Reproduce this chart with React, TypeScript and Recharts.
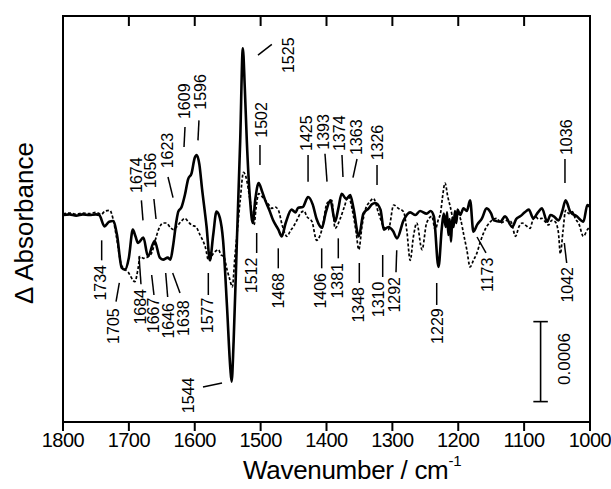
import { LineChart, Line, XAxis, YAxis, ReferenceLine, ReferenceDot, ReferenceArea, CartesianGrid } from 'recharts';

const FONT = '"Liberation Sans", Arial, Helvetica, sans-serif';

// wavenumber ticks (cm-1), axis runs high -> low
const WN_TICKS = [1800, 1700, 1600, 1500, 1400, 1300, 1200, 1100, 1000];

// y values are ΔA in units of 1e-4
const Y_MIN = -15.53;
const Y_MAX = 14.93;

// solid trace: [wavenumber, ΔA x1e4]
const SOLID: [number, number][] = [
  [1800, 0], [1790, 0.05], [1780, -0.05], [1770, 0.05], [1760, 0], [1750, 0.05], [1745, 0],
  [1737, -0.85], [1730, -0.5], [1724, -0.45], [1718, -1.5], [1711, -3.95], [1706, -4.1],
  [1700, -3.2], [1694, -1.1], [1690, -1.6], [1686, -2.1], [1678, -1.7], [1671, -3.1],
  [1661, -1.95], [1653, -3.2], [1648, -3.35], [1641, -3.2], [1637, -3.35], [1633, -2.35],
  [1628, -0.5], [1625, 0.25], [1620, 0.6], [1615, 1.5], [1610, 2.7], [1605, 3.1], [1600, 4.3],
  [1597, 4.5], [1593, 3.8], [1589, 2.0], [1582, -0.9], [1577, -3.4], [1572, -1.5], [1567, 0.25],
  [1562, -0.2], [1557, -1.9], [1551, -6.9], [1546, -11.5], [1544, -12.5], [1541, -9.5],
  [1536, -1.9], [1531, 5.6], [1527, 12.5], [1524, 9.5], [1521, 5.6], [1516, 1.1], [1512, -0.6],
  [1508, 1.2], [1503, 2.4], [1498, 1.8], [1493, 1.1], [1487, 0.4], [1481, -0.4], [1473, -1.1],
  [1468, -1.6], [1462, -0.6], [1453, 0.4], [1447, 0.2], [1443, 0.55], [1436, 0.6], [1428, 1.35],
  [1421, 0.8], [1415, -0.3], [1407, -0.95], [1401, 0.2], [1394, 1.1], [1387, -0.5], [1382, 0.5],
  [1377, 1.6], [1370, 1.2], [1364, 1.5], [1359, 0.5], [1351, -1.6], [1344, 0.1], [1336, 0.5],
  [1331, 0.8], [1326, 0.9], [1318, 0.4], [1313, -1.1], [1306, -0.9], [1299, -1.2], [1293, -1.75],
  [1283, -0.4], [1273, 0.2], [1265, 0.0], [1258, 0.3], [1248, 0.1], [1242, 0.3], [1237, -0.1],
  [1230, -3.9], [1225, -1.0], [1222, 0.1], [1219, -0.9], [1217, 0.2], [1215, -1.5], [1213, -0.3],
  [1211, -2.0], [1209, -0.2], [1207, -0.9], [1205, 0.3], [1203, -0.6], [1201, 0.4], [1197, 0.0],
  [1192, 0.5], [1187, 0.3], [1182, 1.1], [1177, -1.25], [1171, -0.7], [1164, -0.25], [1157, 0.5],
  [1150, 0.1], [1146, -0.4], [1136, -0.5], [1129, -0.1], [1118, -0.9], [1112, -0.3], [1106, -0.1],
  [1099, 0.2], [1093, 0.4], [1086, -0.25], [1079, 0.2], [1073, 0.5], [1065, -0.5], [1060, 0.0],
  [1055, -0.1], [1048, -0.4], [1042, 0.3], [1037, 1.1], [1030, 0.25], [1020, -0.1], [1010, -0.5],
  [1004, 0.75], [1000, 0.6],
];

// dashed trace
const DASHED: [number, number][] = [
  [1800, 0.1], [1790, 0.15], [1780, 0.05], [1770, 0.15], [1760, 0.1], [1750, 0.2], [1742, 0.05],
  [1736, 0.3], [1729, 0.35], [1724, -0.3], [1719, -1.6], [1711, -3.8], [1701, -4.3], [1691, -5.0],
  [1686, -4.0], [1683, -3.1], [1678, -3.25], [1670, -3.1], [1665, -2.8], [1660, -1.9], [1655, -1.1],
  [1648, -0.6], [1643, -0.6], [1637, -0.95], [1632, -1.1], [1627, -0.85], [1621, -0.5], [1615, -0.25],
  [1610, -0.5], [1605, -0.75], [1598, -0.9], [1592, -1.5], [1584, -2.4], [1579, -3.4], [1572, -2.9],
  [1568, -2.7], [1564, -2.6], [1560, -3.0], [1556, -3.1], [1551, -4.1], [1547, -4.8], [1543, -5.4],
  [1539, -3.1], [1535, -1.0], [1531, 1.1], [1526, 3.2], [1522, 2.8], [1516, 1.1], [1510, -0.75],
  [1507, 0.5], [1503, 1.6], [1498, 1.4], [1493, 1.1], [1488, 0.8], [1483, 0.5], [1478, 0.6],
  [1473, 0.35], [1467, -0.8], [1460, -1.6], [1455, -1.2], [1450, -0.85], [1445, -0.4], [1440, 0.1],
  [1434, 0.3], [1430, -0.1], [1422, -0.5], [1415, -1.9], [1407, -1.1], [1399, 0.9], [1392, 1.1],
  [1387, -1.0], [1379, -0.25], [1373, 0.6], [1367, 1.4], [1359, -0.1], [1355, -1.3], [1351, -2.6],
  [1346, -0.8], [1341, 0.4], [1334, 1.0], [1329, 1.25], [1321, 0.15], [1313, -0.9], [1306, -1.1],
  [1298, 0.75], [1291, 0.5], [1283, 0.25], [1278, -1.2], [1273, -3.4], [1268, -1.6], [1263, -0.6],
  [1255, -2.6], [1248, -0.6], [1240, -0.1], [1235, -1.1], [1230, -0.3], [1227, 0.1], [1224, 1.3],
  [1220, 2.4], [1216, 1.4], [1212, 0.6], [1207, -0.35], [1200, 0.1], [1196, -0.4], [1192, -1.4],
  [1187, -2.6], [1182, -3.9], [1177, -3.4], [1172, -2.9], [1167, -2.1], [1162, -1.4], [1156, -0.8],
  [1151, -0.5], [1146, -0.3], [1141, -0.25], [1136, -0.6], [1131, -0.5], [1125, -0.4], [1120, -0.5],
  [1113, -1.6], [1108, -0.9], [1103, -0.6], [1097, -0.8], [1091, -1.0], [1087, -0.4], [1083, -0.1],
  [1078, -0.3], [1073, -0.25], [1068, -0.5], [1063, -0.75], [1058, -0.4], [1053, -0.5], [1048, -1.3],
  [1045, -2.9], [1041, -1.2], [1037, 0.35], [1032, 0.1], [1027, 0.25], [1022, -0.3], [1017, -0.65],
  [1010, -1.6], [1004, -1.1], [1000, -0.9],
];

// peak labels above the traces: label, text anchor point (bottom of text), leader line
type Mark = { text: string; at: [number, number]; line: [number, number, number, number] };

const UPPER: Mark[] = [
  { text: '1674', at: [1689, 1.65], line: [1681, 1.1, 1678.6, -0.4] },
  { text: '1656', at: [1666.4, 2.0], line: [1662, 1.2, 1658.8, -0.3] },
  { text: '1623', at: [1642, 3.5], line: [1640.6, 2.85, 1633, 1.3] },
  { text: '1609', at: [1616.3, 7.2], line: [1614.8, 6.6, 1616.3, 5.1] },
  { text: '1596', at: [1590.5, 7.9], line: [1593.6, 7.1, 1595.1, 5.6] },
  { text: '1525', at: [1458.4, 10.65], line: [1504, 12.0, 1483, 12.8] },
  { text: '1502', at: [1498, 5.8], line: [1501, 5.25, 1501, 3.75] },
  { text: '1425', at: [1431, 4.8], line: [1428, 4.5, 1428, 2.5] },
  { text: '1393', at: [1404, 4.9], line: [1402.3, 4.6, 1399.2, 2.5] },
  { text: '1374', at: [1379.5, 4.8], line: [1376.5, 4.5, 1375, 2.85] },
  { text: '1363', at: [1355, 4.5], line: [1353.7, 4.2, 1359.8, 2.8] },
  { text: '1326', at: [1323.3, 4.1], line: [1323.3, 3.75, 1323.3, 2.25] },
  { text: '1036', at: [1036.4, 4.5], line: [1038, 4.2, 1038, 2.4] },
];

// peak labels below the traces: anchor point is the top of the text
const LOWER: Mark[] = [
  { text: '1734', at: [1743.8, -3.75], line: [1741.3, -1.9, 1741.3, -3.4] },
  { text: '1705', at: [1722.6, -7.0], line: [1714.5, -5.1, 1719.5, -6.5] },
  { text: '1684', at: [1681.6, -5.55], line: [1684.6, -3.1, 1681.6, -5.2] },
  { text: '1667', at: [1661.9, -6.2], line: [1665.4, -4.5, 1661.9, -6.0] },
  { text: '1646', at: [1639.1, -6.6], line: [1644.1, -4.35, 1641.1, -6.15] },
  { text: '1638', at: [1617.8, -6.4], line: [1633.5, -4.35, 1622.4, -5.85] },
  { text: '1577', at: [1581.4, -6.2], line: [1579.4, -4.35, 1579.4, -6.0] },
  { text: '1544', at: [1610.2, -12.2], line: [1587.5, -12.9, 1558.6, -12.6] },
  { text: '1512', at: [1513.1, -3.2], line: [1506, -1.35, 1506, -2.85] },
  { text: '1468', at: [1472.1, -4.35], line: [1473.2, -2.5, 1473.2, -4.0] },
  { text: '1406', at: [1408.4, -4.35], line: [1407.3, -2.5, 1407.3, -4.0] },
  { text: '1381', at: [1383.3, -3.6], line: [1382.1, -1.75, 1382.1, -3.25] },
  { text: '1348', at: [1350.7, -5.4], line: [1350.2, -3.6, 1350.2, -5.1] },
  { text: '1310', at: [1320.3, -5.0], line: [1314.7, -3.0, 1314.7, -4.65] },
  { text: '1292', at: [1296, -4.65], line: [1293.4, -2.65, 1294.5, -4.3] },
  { text: '1229', at: [1231.5, -7.0], line: [1232.7, -5.1, 1232.7, -6.75] },
  { text: '1173', at: [1155.6, -3.2], line: [1171.5, -1.65, 1157.9, -2.85] },
  { text: '1042', at: [1033.4, -3.9], line: [1039, -2.1, 1035.4, -3.6] },
];

// scale bar: 6 units = 0.0006
const BAR_WN = 1075;
const BAR_BOTTOM = -14.0;
const BAR_LEN = 6;

const solidData = SOLID.map(([wn, v]) => ({ wn, v }));
const dashedData = DASHED.map(([wn, v]) => ({ wn, v }));

const vText = (text: string, anchor: 'start' | 'end' | 'middle', size = 16) => (p: any) => (
  <text
    x={p.cx}
    y={p.cy}
    transform={`rotate(-90 ${p.cx} ${p.cy})`}
    textAnchor={anchor}
    dominantBaseline="central"
    fontSize={size}
    fontFamily={FONT}
    fill="#000"
  >
    {text}
  </text>
);

export default function App() {
  return (
    <div style={{ position: 'absolute', left: 0, top: 0, width: 611, height: 489, background: '#fff', fontFamily: FONT }}>
      <LineChart width={611} height={489} margin={{ top: 16, right: 21, bottom: 0, left: 63 }}>
        {/* vertical grid dashed so only a short inward tick shows under the top frame */}
        <CartesianGrid horizontal={false} stroke="#000" strokeWidth={2} strokeDasharray="10 2000" />
        <XAxis
          type="number"
          dataKey="wn"
          domain={[1000, 1800]}
          reversed
          ticks={WN_TICKS}
          allowDataOverflow
          height={67}
          axisLine={false}
          tickSize={9}
          tickMargin={2}
          tickLine={{ stroke: '#000', strokeWidth: 2 }}
          tick={{ fontSize: 20, fill: '#000', fontFamily: FONT, letterSpacing: -0.5 }}
        />
        <YAxis type="number" domain={[Y_MIN, Y_MAX]} allowDataOverflow hide />
        <ReferenceArea x1={1800} x2={1000} y1={Y_MIN} y2={Y_MAX} fill="none" stroke="#000" strokeWidth={2} fillOpacity={0} ifOverflow="visible" />

        <Line data={dashedData} dataKey="v" type="monotone" stroke="#000" strokeWidth={1.7} strokeDasharray="3 2" dot={false} isAnimationActive={false} />
        <Line data={solidData} dataKey="v" type="monotone" stroke="#000" strokeWidth={2.6} dot={false} isAnimationActive={false} />

        {[...UPPER, ...LOWER].map((m) => (
          <ReferenceLine
            key={'l' + m.text}
            segment={[{ x: m.line[0], y: m.line[1] }, { x: m.line[2], y: m.line[3] }]}
            stroke="#000"
            strokeWidth={1.5}
            ifOverflow="visible"
          />
        ))}
        {UPPER.map((m) => (
          <ReferenceDot key={'u' + m.text} x={m.at[0]} y={m.at[1]} r={0} ifOverflow="visible" shape={vText(m.text, 'start')} />
        ))}
        {LOWER.map((m) => (
          <ReferenceDot key={'d' + m.text} x={m.at[0]} y={m.at[1]} r={0} ifOverflow="visible" shape={vText(m.text, 'end')} />
        ))}

        {/* scale bar */}
        <ReferenceLine segment={[{ x: BAR_WN, y: BAR_BOTTOM }, { x: BAR_WN, y: BAR_BOTTOM + BAR_LEN }]} stroke="#000" strokeWidth={1.6} ifOverflow="visible" />
        <ReferenceLine segment={[{ x: BAR_WN + 11, y: BAR_BOTTOM }, { x: BAR_WN - 11, y: BAR_BOTTOM }]} stroke="#000" strokeWidth={1.6} ifOverflow="visible" />
        <ReferenceLine segment={[{ x: BAR_WN + 11, y: BAR_BOTTOM + BAR_LEN }, { x: BAR_WN - 11, y: BAR_BOTTOM + BAR_LEN }]} stroke="#000" strokeWidth={1.6} ifOverflow="visible" />
        <ReferenceDot x={BAR_WN - 37} y={BAR_BOTTOM + BAR_LEN / 2 + 0.2} r={0} ifOverflow="visible" shape={vText('0.0006', 'middle', 17)} />
      </LineChart>

      <div
        style={{
          position: 'absolute', left: 24, top: 223, transform: 'translate(-50%, -50%) rotate(-90deg)',
          fontSize: 26, lineHeight: 1, whiteSpace: 'nowrap', color: '#000',
        }}
      >
        Δ Absorbance
      </div>
      <div style={{ position: 'absolute', left: 243, top: 457, fontSize: 26, lineHeight: 1, whiteSpace: 'nowrap', letterSpacing: -0.3, color: '#000' }}>
        Wavenumber / cm<sup style={{ fontSize: 15, verticalAlign: 'top', position: 'relative', top: -4 }}>-1</sup>
      </div>
    </div>
  );
}
